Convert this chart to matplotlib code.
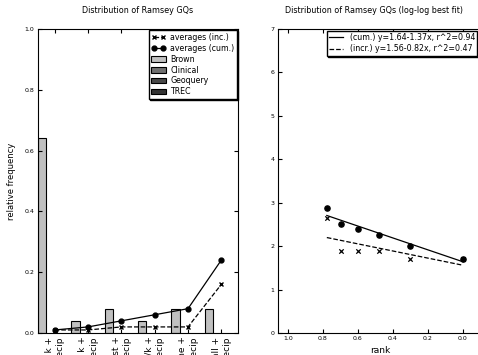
import numpy as np
import matplotlib
matplotlib.use("Agg")
import matplotlib.pyplot as plt
import matplotlib.patches as mpatches
from matplotlib.lines import Line2D

## Data
queries = ["max k +\nrecip", "min - k +\nrecip", "most +\nrecip",
           "no/k +\nrecip", "some +\nrecip", "all +\nrecip"]
brown = [0.64, 0.04, 0.08, 0.04, 0.08, 0.08]
clinical = [0, 0, 0, 0, 0, 0]
geoquery = [0, 0, 0, 0, 0, 0]
trec = [0, 0, 0, 0, 0, 0]
avg_inc = [0.01, 0.01, 0.02, 0.02, 0.02, 0.16]
avg_cum = [0.01, 0.02, 0.04, 0.06, 0.08, 0.24]

# log-log panel
log_rank = [0.778, 0.699, 0.602, 0.477, 0.301, 0.0]
log_cum = [2.87, 2.52, 2.40, 2.25, 2.00, 1.70]
log_inc = [2.65, 1.88, 1.88, 1.88, 1.70, 1.70]
fit_cum = (1.64, 1.37, 0.94)   # intercept, slope, r^2
fit_inc = (1.56, 0.82, 0.47)

series_colors = {"Brown": "#c0c0c0", "Clinical": "#707070",
                 "Geoquery": "#484848", "TREC": "#333333"}

plt.rcParams["font.family"] = "DejaVu Sans"
plt.rcParams["xtick.direction"] = "in"
plt.rcParams["ytick.direction"] = "in"
plt.rcParams["xtick.top"] = True
plt.rcParams["ytick.right"] = True
plt.rcParams["xtick.major.size"] = 3
plt.rcParams["ytick.major.size"] = 3
plt.rcParams["xtick.labelsize"] = 4.5
plt.rcParams["ytick.labelsize"] = 4.5
plt.rcParams["xtick.major.pad"] = 2.5
plt.rcParams["ytick.major.pad"] = 2.5

fig = plt.figure(figsize=(4.78, 3.55), dpi=100)
ax1 = fig.add_axes([38/478, 22/355, 200/478, 304/355])
ax2 = fig.add_axes([278/478, 22/355, 204/478, 304/355])

shadow = {"color": "k", "alpha": 1, "ox": 0.7, "oy": -0.7}

## Left panel: relative frequencies
x = np.arange(len(queries))
w = 0.25
for k, (name, vals) in enumerate([("Brown", brown), ("Clinical", clinical),
                                   ("Geoquery", geoquery), ("TREC", trec)]):
    ax1.bar(x - 0.5 + k*w, vals, w, align="edge", color=series_colors[name],
            edgecolor="k", linewidth=0.8 if max(vals) > 0 else 0, label=name)
ax1.plot(x, avg_inc, "k--", marker="x", markersize=3.5, mew=1, lw=0.9)
ax1.plot(x, avg_cum, "k-", marker="o", markersize=3.5, lw=0.9)
ax1.set_xlim(-0.5, 5.5)
ax1.set_ylim(0, 1.0)
ax1.set_yticks(np.arange(0, 1.01, 0.2))
ax1.set_xticks(x)
ax1.set_xticklabels(queries, rotation=90, fontsize=6.5, ha="center", va="top",
                    multialignment="right")
ax1.set_ylabel("relative frequency", fontsize=6, labelpad=6)
ax1.set_title("Distribution of Ramsey GQs", fontsize=5.8, pad=11.5)

handles = [Line2D([], [], color="k", ls="--", marker="x", markersize=3.5, mew=1, lw=0.9),
           Line2D([], [], color="k", ls="-", marker="o", markersize=3.5, lw=0.9)]
handles += [mpatches.Patch(facecolor=c, edgecolor="k", lw=0.8) for c in series_colors.values()]
labels = ["averages (inc.)", "averages (cum.)"] + list(series_colors.keys())
ax1.legend(handles, labels, loc="upper right", fontsize=5.7, numpoints=2,
           fancybox=False, framealpha=1, edgecolor="k", borderaxespad=0.15,
           handlelength=1.8, handletextpad=0.6, labelspacing=0.25, borderpad=0.3,
           shadow=shadow)

## Right panel: log-log fit
xr = np.array(log_rank)
ax2.scatter(log_rank, log_cum, color="k", marker="o", s=14, zorder=3)
ax2.scatter(log_rank, log_inc, color="k", marker="x", s=10, lw=0.9, zorder=3)
ax2.plot(xr, fit_cum[0] + fit_cum[1]*xr, "k-", lw=0.9,
         label="(cum.) y=%.2f-%.2fx, r^2=%.2f" % fit_cum)
ax2.plot(xr, fit_inc[0] + fit_inc[1]*xr, "k--", lw=0.9,
         label="(incr.) y=%.2f-%.2fx, r^2=%.2f" % fit_inc)
ax2.set_xlim(1.057, 1.057 - 204/175)
ax2.set_ylim(0, 7)
ax2.set_xticks([1.0, 0.8, 0.6, 0.4, 0.2, 0.0])
ax2.set_yticks(range(8))
ax2.set_xlabel("rank", fontsize=6.5, labelpad=3)
ax2.set_title("Distribution of Ramsey GQs (log-log best fit)", fontsize=5.8, pad=11.5, x=0.47)
ax2.legend(loc="upper right", bbox_to_anchor=(0.985, 1.0), fontsize=5.7,
           fancybox=False, framealpha=1, edgecolor="k", borderaxespad=0.2,
           handlelength=1.8, handletextpad=0.8, labelspacing=0.3, borderpad=0.3,
           shadow=shadow)

plt.savefig("out.png", dpi=100)
